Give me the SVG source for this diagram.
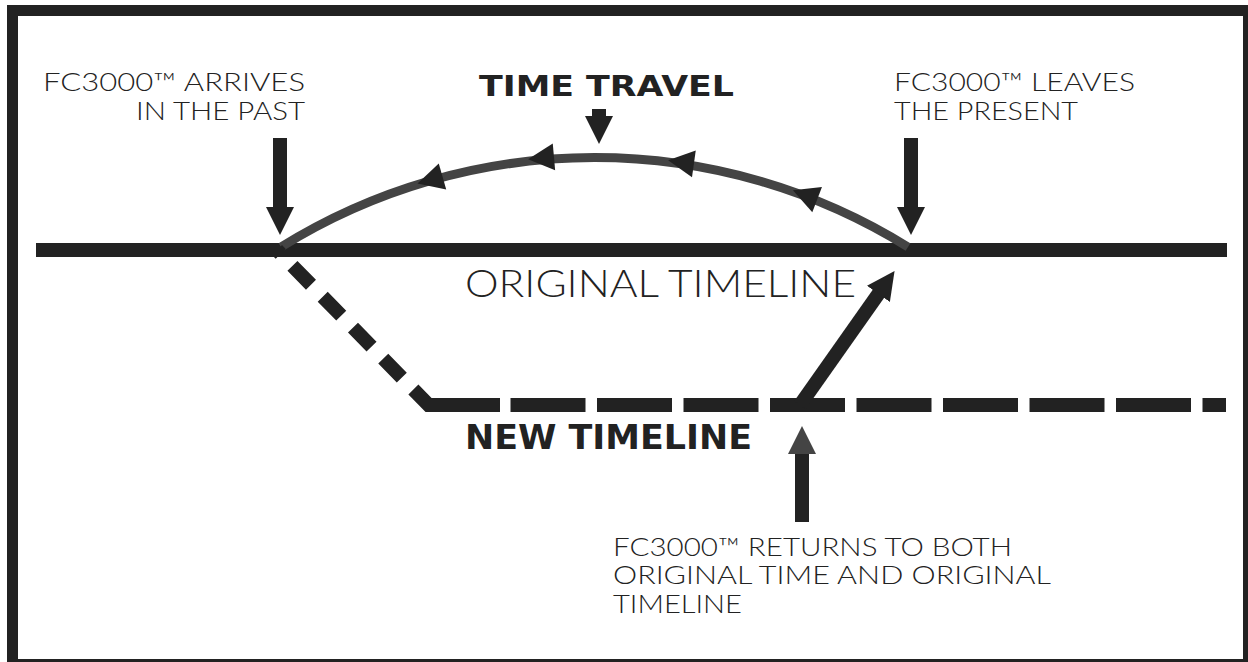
<svg xmlns="http://www.w3.org/2000/svg" xmlns:xlink="http://www.w3.org/1999/xlink" width="1248" height="662" viewBox="0 0 1248 662">
  <style>
    .lbl { font-family: "Lato", "Liberation Sans", sans-serif; font-weight: 300; fill: #222; }
    .bold { font-family: "DejaVu Sans", "Liberation Sans", sans-serif; font-weight: 700; fill: #222; }
    .solid { fill: none; stroke: #222; stroke-width: 14; stroke-linecap: butt; }
    .arc { fill: none; stroke: #444; stroke-width: 9; }
    .ahead { fill: #222; }
  </style>
  <defs>
    <marker id="headBlack" viewBox="0 0 28 28" markerWidth="28" markerHeight="28" refX="1" refY="14" orient="auto" markerUnits="userSpaceOnUse">
      <path d="M0,0 L28,14 L0,28 Z" fill="#222"/>
    </marker>
    <marker id="headGray" viewBox="0 0 28 28" markerWidth="28" markerHeight="28" refX="1" refY="14" orient="auto" markerUnits="userSpaceOnUse">
      <path d="M0,0 L28,14 L0,28 Z" fill="#444"/>
    </marker>
    <path id="arcHead" d="M-13,0 L13,-13.5 L13,13.5 Z"/>
  </defs>

  <rect x="0" y="0" width="1248" height="662" fill="#fff"/>
  <rect id="frame" x="12.5" y="10.5" width="1236" height="654" fill="#fff" stroke="#222" stroke-width="11"/>

  <g id="connectors">
    <!-- original timeline -->
    <line id="original-timeline" x1="36" y1="250" x2="1227" y2="250" class="solid"/>
    <!-- time travel arc -->
    <g id="time-travel-arc">
      <path d="M281,247 A594,594 0 0 1 908,247" class="arc"/>
      <use xlink:href="#arcHead" class="ahead" transform="translate(430,180) rotate(-16)"/>
      <use xlink:href="#arcHead" class="ahead" transform="translate(541,158) rotate(-5)"/>
      <use xlink:href="#arcHead" class="ahead" transform="translate(681,162) rotate(8)"/>
      <use xlink:href="#arcHead" class="ahead" transform="translate(805,195) rotate(21)"/>
    </g>
    <!-- new timeline (dashed) -->
    <g id="new-timeline">
      <path d="M277,250 L413.4,389.5" class="solid" stroke-dasharray="26.5 16.8" stroke-dashoffset="21.2"/>
      <path d="M413.4,389.5 L428.5,405 L500,405" class="solid" stroke-linejoin="miter"/>
      <path d="M510.5,405 L1226,405" class="solid" stroke-dasharray="75 11.5"/>
    </g>
    <!-- pointer arrows -->
    <line id="arrow-arrives" x1="280" y1="138" x2="280" y2="208" class="solid" marker-end="url(#headBlack)"/>
    <line id="arrow-leaves" x1="911" y1="138" x2="911" y2="208" class="solid" marker-end="url(#headBlack)"/>
    <line id="arrow-time-travel" x1="599" y1="109" x2="599" y2="117" class="solid" stroke-width="13" marker-end="url(#headBlack)"/>
    <line id="arrow-return" x1="800" y1="405" x2="879" y2="293" class="solid" marker-end="url(#headBlack)"/>
    <line id="arrow-returns-label" x1="802" y1="522" x2="802" y2="453" class="solid" stroke="#444" marker-end="url(#headGray)"/>
  </g>

  <g id="label-arrives">
    <text class="lbl" font-size="25" x="305" y="91" text-anchor="end" textLength="262" lengthAdjust="spacingAndGlyphs">FC3000™ ARRIVES</text>
    <text class="lbl" font-size="25" x="305" y="120" text-anchor="end" textLength="169" lengthAdjust="spacingAndGlyphs">IN THE PAST</text>
  </g>

  <g id="label-time-travel">
    <text class="bold" font-size="29" x="479" y="96" textLength="255" lengthAdjust="spacingAndGlyphs">TIME TRAVEL</text>
  </g>

  <g id="label-leaves">
    <text class="lbl" font-size="25" x="894" y="91" textLength="241" lengthAdjust="spacingAndGlyphs">FC3000™ LEAVES</text>
    <text class="lbl" font-size="25" x="894" y="120" textLength="184" lengthAdjust="spacingAndGlyphs">THE PRESENT</text>
  </g>

  <g id="label-original-timeline">
    <text class="lbl" font-size="38" x="465" y="297" textLength="391" lengthAdjust="spacingAndGlyphs">ORIGINAL TIMELINE</text>
  </g>

  <g id="label-new-timeline">
    <text class="bold" font-size="34" x="465" y="449" textLength="287" lengthAdjust="spacingAndGlyphs">NEW TIMELINE</text>
  </g>

  <g id="label-returns">
    <text class="lbl" font-size="25" x="613" y="556" textLength="399" lengthAdjust="spacingAndGlyphs">FC3000™ RETURNS TO BOTH</text>
    <text class="lbl" font-size="25" x="613" y="584" textLength="438" lengthAdjust="spacingAndGlyphs">ORIGINAL TIME AND ORIGINAL</text>
    <text class="lbl" font-size="25" x="613" y="613" textLength="129" lengthAdjust="spacingAndGlyphs">TIMELINE</text>
  </g>
</svg>
